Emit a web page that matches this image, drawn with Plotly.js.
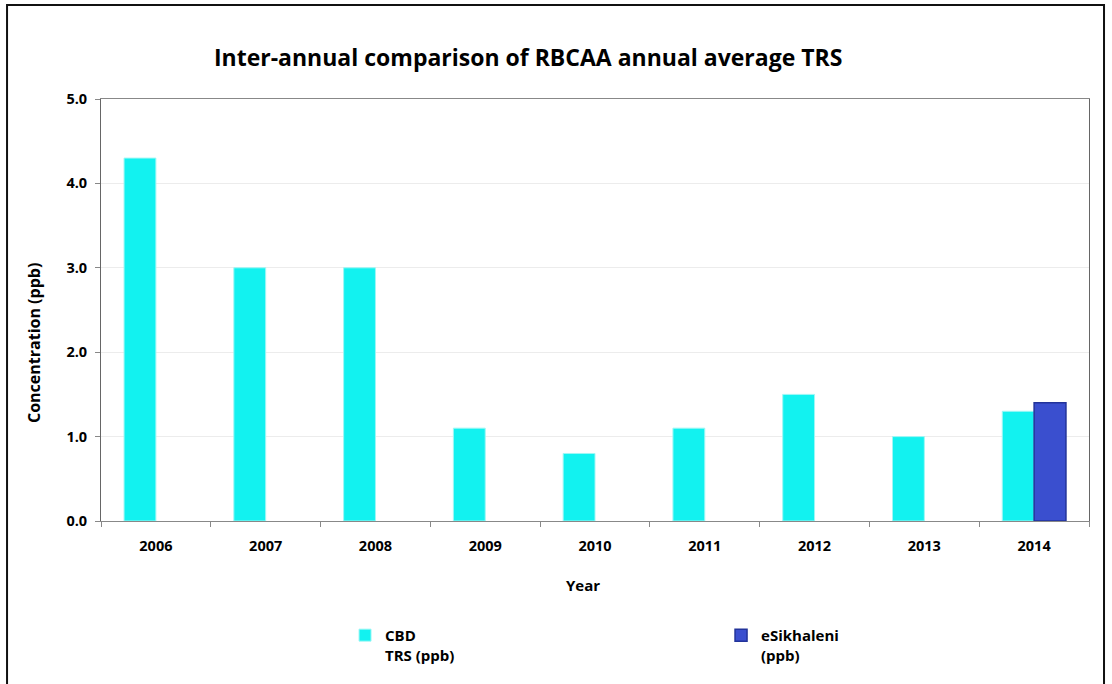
<!DOCTYPE html>
<html>
<head>
<meta charset="utf-8">
<script src="https://cdn.plot.ly/plotly-3.0.1.min.js"></script>
<style>html,body{margin:0;padding:0;background:#fff;}</style>
</head>
<body>
<div id="chart" style="width:1112px;height:684px;"></div>
<script>
const years = ['2006','2007','2008','2009','2010','2011','2012','2013','2014'];
const cbdValues = [4.3, 3.0, 3.0, 1.1, 0.8, 1.1, 1.5, 1.0, 1.3];
const esikhaleniValues = [null, null, null, null, null, null, null, null, 1.4];
const yTicks = [0, 1, 2, 3, 4, 5];
const seriesNames = ['CBD<br>TRS (ppb)', 'eSikhaleni<br>(ppb)'];
const xTitle = 'Year';
const yTitle = 'Concentration (ppb)';

const FONT = '"Open Sans", Lato, sans-serif';

const traces = [
  {
    type: 'bar', x: years, y: cbdValues, name: seriesNames[0],
    marker: {color: '#12f2f0', line: {color: '#9ff7f5', width: 1}}
  },
  {
    type: 'bar', x: years, y: esikhaleniValues, name: seriesNames[1],
    marker: {color: '#3a4fcf', line: {color: '#22339a', width: 1.5}}
  }
];

const layout = {
  width: 1112, height: 684,
  margin: {l: 101, r: 23, t: 99, b: 163, autoexpand: false},
  paper_bgcolor: '#ffffff', plot_bgcolor: '#ffffff',
  font: {family: FONT, color: '#000', size: 13},
  title: {
    text: '<b>Inter-annual comparison of RBCAA annual average TRS</b>',
    font: {family: FONT, size: 23, color: '#000'},
    x: 0.475, xanchor: 'center', y: 0.915, yanchor: 'middle'
  },
  barmode: 'group', bargap: 0.42, bargroupgap: 0,
  showlegend: true,
  legend: {
    orientation: 'h', x: 0.247, xanchor: 'left', y: -0.232, yanchor: 'top',
    valign: 'top', entrywidth: 331, entrywidthmode: 'pixels',
    bgcolor: 'rgba(0,0,0,0)',
    font: {family: FONT, size: 15, color: '#000', weight: 'bold'},
    traceorder: 'normal'
  },
  xaxis: {
    type: 'category',
    tickfont: {family: FONT, size: 14.5, weight: 'bold'},
    ticks: 'outside', ticklen: 5, tickcolor: '#888', tickson: 'boundaries',
    ticklabelstandoff: 12,
    showline: true, linecolor: '#888', linewidth: 1, mirror: true,
    showgrid: false, zeroline: false
  },
  yaxis: {
    range: [0, 5], tickvals: yTicks, tickformat: '.1f',
    tickfont: {family: FONT, size: 14.5, weight: 'bold'},
    ticks: 'outside', ticklen: 5, tickcolor: '#888',
    ticklabelstandoff: 5,
    showline: true, linecolor: '#666', linewidth: 1, mirror: true,
    showgrid: true, gridcolor: '#ececec', zeroline: false
  },
  annotations: [
    {text: '<b>' + xTitle + '</b>', xref: 'paper', yref: 'paper',
     x: (583 - 101) / 988, y: -(585 - 521) / 422, xanchor: 'center', yanchor: 'middle',
     showarrow: false, font: {family: FONT, size: 15, color: '#000'}},
    {text: '<b>' + yTitle + '</b>', xref: 'paper', yref: 'paper', textangle: -90,
     x: (34 - 101) / 988, y: (521 - 343) / 422, xanchor: 'center', yanchor: 'middle',
     showarrow: false, font: {family: FONT, size: 16, color: '#000'}}
  ],
  shapes: [
    {type: 'rect', xref: 'paper', yref: 'paper',
     x0: -0.0951, x1: 1.0152, y0: -0.41, y1: 1.2227,
     line: {color: '#111', width: 2}, fillcolor: 'rgba(0,0,0,0)', layer: 'below'}
  ]
};

Plotly.newPlot('chart', traces, layout, {displayModeBar: false, staticPlot: true});
</script>
</body>
</html>
